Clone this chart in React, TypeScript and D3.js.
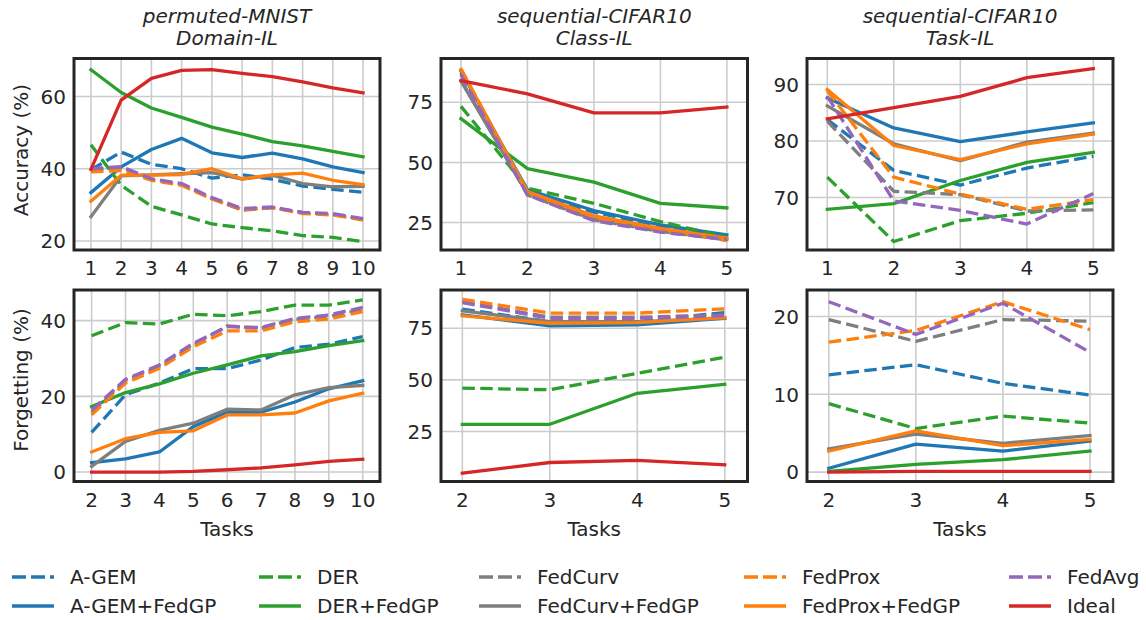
import React from 'react';
import * as d3 from 'd3';

// ---------- categories ----------
const methodNames = ['A-GEM', 'A-GEM+FedGP', 'DER', 'DER+FedGP', 'FedCurv', 'FedCurv+FedGP', 'FedProx', 'FedProx+FedGP', 'FedAvg', 'Ideal'];
const methodColors = ['#1f77b4', '#1f77b4', '#2ca02c', '#2ca02c', '#7f7f7f', '#7f7f7f', '#ff7f0e', '#ff7f0e', '#9467bd', '#d62728'];
const methodDashed = [true, false, true, false, true, false, true, false, true, false];

const tasksAll10 = [1, 2, 3, 4, 5, 6, 7, 8, 9, 10];
const tasksFrom2to10 = [2, 3, 4, 5, 6, 7, 8, 9, 10];
const tasksAll5 = [1, 2, 3, 4, 5];
const tasksFrom2to5 = [2, 3, 4, 5];

// ---------- permuted-MNIST Domain-IL accuracy ----------
const pmAccAGEM = [39.7, 44.6, 41.2, 40.0, 37.4, 38.3, 37.1, 35.2, 34.3, 33.5];
const pmAccAGEMGP = [33.4, 40.5, 45.3, 48.4, 44.4, 43.1, 44.3, 42.7, 40.5, 38.9];
const pmAccDER = [46.6, 35.4, 29.6, 27.2, 24.7, 23.7, 22.8, 21.5, 21.0, 19.8];
const pmAccDERGP = [67.4, 61.1, 56.8, 54.2, 51.5, 49.6, 47.5, 46.3, 44.8, 43.3];
const pmAccCurv = [39.5, 40.3, 37.1, 35.7, 31.7, 28.5, 29.2, 27.9, 27.3, 26.0];
const pmAccCurvGP = [26.7, 38.0, 38.3, 38.6, 38.9, 37.1, 38.2, 35.9, 35.0, 35.1];
const pmAccProx = [39.1, 39.5, 36.8, 35.4, 31.6, 28.7, 29.2, 27.6, 27.2, 25.8];
const pmAccProxGP = [31.0, 38.2, 38.2, 38.4, 40.0, 37.2, 38.3, 38.8, 36.8, 35.6];
const pmAccAvg = [40.0, 40.6, 37.2, 35.9, 32.0, 29.0, 29.4, 27.9, 27.6, 26.2];
const pmAccIdeal = [39.8, 59.0, 65.0, 67.2, 67.4, 66.4, 65.5, 64.0, 62.4, 61.0];

// ---------- sequential-CIFAR10 Class-IL accuracy ----------
const ciAccAGEM = [87.2, 38.2, 29.3, 23.6, 18.9];
const ciAccAGEMGP = [87.9, 38.6, 30.0, 24.0, 19.9];
const ciAccDER = [73.3, 39.3, 33.0, 25.4, 18.9];
const ciAccDERGP = [68.2, 47.4, 41.8, 33.0, 31.1];
const ciAccCurv = [84.4, 36.5, 26.1, 21.3, 17.8];
const ciAccCurvGP = [83.8, 37.0, 26.4, 21.7, 18.0];
const ciAccProx = [88.9, 37.5, 27.2, 22.2, 17.5];
const ciAccProxGP = [88.6, 37.9, 27.8, 22.6, 18.5];
const ciAccAvg = [86.5, 36.5, 25.8, 21.0, 18.0];
const ciAccIdeal = [84.0, 78.5, 70.6, 70.6, 73.0];

// ---------- sequential-CIFAR10 Task-IL accuracy ----------
const tiAccAGEM = [83.8, 74.8, 72.2, 75.2, 77.3];
const tiAccAGEMGP = [87.6, 82.3, 79.9, 81.6, 83.2];
const tiAccDER = [73.6, 62.2, 65.9, 67.2, 69.1];
const tiAccDERGP = [67.9, 68.9, 73.0, 76.2, 78.0];
const tiAccCurv = [83.5, 71.1, 70.5, 67.6, 67.8];
const tiAccCurvGP = [86.2, 79.5, 76.5, 79.8, 81.4];
const tiAccProx = [88.9, 73.6, 70.6, 67.9, 69.6];
const tiAccProxGP = [89.1, 79.2, 76.7, 79.5, 81.2];
const tiAccAvg = [87.9, 69.4, 67.7, 65.3, 70.7];
const tiAccIdeal = [83.9, 85.9, 87.9, 91.2, 92.8];

// ---------- permuted-MNIST forgetting ----------
const pmFgtAGEM = [10.5, 20.4, 23.5, 27.3, 27.3, 29.6, 32.9, 33.8, 35.8];
const pmFgtAGEMGP = [2.5, 3.5, 5.3, 12.0, 15.8, 15.8, 18.5, 22.0, 24.1];
const pmFgtDER = [36.0, 39.5, 39.1, 41.7, 41.3, 42.4, 44.1, 44.1, 45.5];
const pmFgtDERGP = [17.3, 21.0, 23.3, 26.1, 28.3, 30.7, 31.8, 33.4, 34.7];
const pmFgtCurv = [15.7, 24.1, 27.9, 33.6, 38.6, 38.0, 40.4, 41.1, 43.0];
const pmFgtCurvGP = [1.5, 8.1, 11.0, 12.9, 16.6, 16.4, 20.4, 22.3, 22.9];
const pmFgtProx = [15.1, 23.5, 27.4, 33.1, 37.3, 37.3, 39.7, 40.4, 42.4];
const pmFgtProxGP = [5.3, 8.8, 10.5, 10.9, 15.1, 15.1, 15.6, 18.8, 20.8];
const pmFgtAvg = [16.3, 24.5, 28.3, 34.0, 38.4, 38.2, 40.6, 41.5, 43.5];
const pmFgtIdeal = [0.0, 0.0, 0.0, 0.2, 0.6, 1.1, 1.9, 2.8, 3.4];

// ---------- sequential-CIFAR10 Class-IL forgetting ----------
const ciFgtAGEM = [84.2, 78.2, 78.2, 82.6];
const ciFgtAGEMGP = [81.5, 76.1, 76.6, 79.8];
const ciFgtDER = [46.0, 45.2, 53.2, 61.0];
const ciFgtDERGP = [28.5, 28.5, 43.5, 47.9];
const ciFgtCurv = [87.9, 80.3, 80.3, 81.5];
const ciFgtCurvGP = [83.4, 78.2, 78.2, 79.8];
const ciFgtProx = [89.0, 82.3, 82.3, 84.4];
const ciFgtProxGP = [81.0, 77.4, 77.7, 80.2];
const ciFgtAvg = [87.4, 79.8, 79.8, 81.1];
const ciFgtIdeal = [4.8, 10.0, 11.0, 8.9];

// ---------- sequential-CIFAR10 Task-IL forgetting ----------
const tiFgtAGEM = [12.5, 13.8, 11.4, 9.9];
const tiFgtAGEMGP = [0.5, 3.6, 2.7, 4.0];
const tiFgtDER = [8.8, 5.6, 7.2, 6.3];
const tiFgtDERGP = [0.1, 1.0, 1.6, 2.7];
const tiFgtCurv = [19.6, 16.8, 19.6, 19.4];
const tiFgtCurvGP = [3.0, 4.9, 3.7, 4.7];
const tiFgtProx = [16.7, 18.2, 21.9, 18.3];
const tiFgtProxGP = [2.7, 5.3, 3.4, 4.2];
const tiFgtAvg = [21.9, 17.7, 21.7, 15.4];
const tiFgtIdeal = [0.0, 0.1, 0.1, 0.1];

// ---------- tick labels ----------
const yTicksPmAcc = [20, 40, 60];
const yTicksCiAcc = [25, 50, 75];
const yTicksTiAcc = [70, 80, 90];
const yTicksPmFgt = [0, 20, 40];
const yTicksCiFgt = [25, 50, 75];
const yTicksTiFgt = [0, 10, 20];

const FONT = 'DejaVu Sans, sans-serif';
const TEXT = '#262626';

type Panel = {
  x0: number; x1: number; y0: number; y1: number;
  xDom: [number, number]; yDom: [number, number];
  xs: number[]; xTicks: number[]; yTicks: number[];
  series: number[][];
  title?: [string, string];
  ylabel?: string; ylabelY?: number;
  xlabel?: string;
};

const panels: Panel[] = [
  {
    x0: 74, x1: 380, y0: 58.5, y1: 250, xDom: [0.44, 10.56], yDom: [17.5, 70.5],
    xs: tasksAll10, xTicks: tasksAll10, yTicks: yTicksPmAcc,
    series: [pmAccAGEM, pmAccAGEMGP, pmAccDER, pmAccDERGP, pmAccCurv, pmAccCurvGP, pmAccProx, pmAccProxGP, pmAccAvg, pmAccIdeal],
    title: ['permuted-MNIST', 'Domain-IL'], ylabel: 'Accuracy (%)', ylabelY: 150,
  },
  {
    x0: 441, x1: 747.5, y0: 58.5, y1: 250, xDom: [0.7, 5.31], yDom: [13.6, 93.2],
    xs: tasksAll5, xTicks: tasksAll5, yTicks: yTicksCiAcc,
    series: [ciAccAGEM, ciAccAGEMGP, ciAccDER, ciAccDERGP, ciAccCurv, ciAccCurvGP, ciAccProx, ciAccProxGP, ciAccAvg, ciAccIdeal],
    title: ['sequential-CIFAR10', 'Class-IL'],
  },
  {
    x0: 807, x1: 1113, y0: 58.5, y1: 250, xDom: [0.695, 5.296], yDom: [60.7, 94.6],
    xs: tasksAll5, xTicks: tasksAll5, yTicks: yTicksTiAcc,
    series: [tiAccAGEM, tiAccAGEMGP, tiAccDER, tiAccDERGP, tiAccCurv, tiAccCurvGP, tiAccProx, tiAccProxGP, tiAccAvg, tiAccIdeal],
    title: ['sequential-CIFAR10', 'Task-IL'],
  },
  {
    x0: 74, x1: 380, y0: 290, y1: 481.5, xDom: [1.48, 10.51], yDom: [-2.5, 48.1],
    xs: tasksFrom2to10, xTicks: tasksFrom2to10, yTicks: yTicksPmFgt,
    series: [pmFgtAGEM, pmFgtAGEMGP, pmFgtDER, pmFgtDERGP, pmFgtCurv, pmFgtCurvGP, pmFgtProx, pmFgtProxGP, pmFgtAvg, pmFgtIdeal],
    ylabel: 'Forgetting (%)', ylabelY: 380, xlabel: 'Tasks',
  },
  {
    x0: 441, x1: 747.5, y0: 290, y1: 481.5, xDom: [1.756, 5.26], yDom: [0.8, 93.5],
    xs: tasksFrom2to5, xTicks: tasksFrom2to5, yTicks: yTicksCiFgt,
    series: [ciFgtAGEM, ciFgtAGEMGP, ciFgtDER, ciFgtDERGP, ciFgtCurv, ciFgtCurvGP, ciFgtProx, ciFgtProxGP, ciFgtAvg, ciFgtIdeal],
    xlabel: 'Tasks',
  },
  {
    x0: 807, x1: 1113, y0: 290, y1: 481.5, xDom: [1.75, 5.264], yDom: [-1.2, 23.4],
    xs: tasksFrom2to5, xTicks: tasksFrom2to5, yTicks: yTicksTiFgt,
    series: [tiFgtAGEM, tiFgtAGEMGP, tiFgtDER, tiFgtDERGP, tiFgtCurv, tiFgtCurvGP, tiFgtProx, tiFgtProxGP, tiFgtAvg, tiFgtIdeal],
    xlabel: 'Tasks',
  },
];

const LW = 3.3;
const DASH = '12.5,5.4';

function PanelView({ p, idx }: { p: Panel; idx: number }) {
  const x = d3.scaleLinear().domain(p.xDom).range([p.x0, p.x1]);
  const y = d3.scaleLinear().domain(p.yDom).range([p.y1, p.y0]);
  const line = d3.line<[number, number]>().x(d => x(d[0])).y(d => y(d[1]));
  const cx = (p.x0 + p.x1) / 2;
  const clipId = `clip${idx}`;
  return (
    <g>
      <defs>
        <clipPath id={clipId}>
          <rect x={p.x0} y={p.y0} width={p.x1 - p.x0} height={p.y1 - p.y0} />
        </clipPath>
      </defs>
      <rect x={p.x0} y={p.y0} width={p.x1 - p.x0} height={p.y1 - p.y0} fill="#ffffff" />
      {p.xTicks.map(t => (
        <line key={'gx' + t} x1={x(t)} x2={x(t)} y1={p.y0} y2={p.y1} stroke="#cccccc" strokeWidth={1.6} />
      ))}
      {p.yTicks.map(t => (
        <line key={'gy' + t} x1={p.x0} x2={p.x1} y1={y(t)} y2={y(t)} stroke="#cccccc" strokeWidth={1.6} />
      ))}
      <g clipPath={`url(#${clipId})`}>
        {p.series.map((vals, i) => (
          <path
            key={'s' + i}
            d={line(p.xs.map((xv, j) => [xv, vals[j]] as [number, number])) || ''}
            fill="none"
            stroke={methodColors[i]}
            strokeWidth={LW}
            strokeDasharray={methodDashed[i] ? DASH : undefined}
            strokeLinecap={methodDashed[i] ? 'butt' : 'square'}
            strokeLinejoin="round"
          />
        ))}
      </g>
      <rect x={p.x0} y={p.y0} width={p.x1 - p.x0} height={p.y1 - p.y0} fill="none" stroke={TEXT} strokeWidth={3} />
      {p.xTicks.map(t => (
        <text key={'tx' + t} x={x(t)} y={p.y1 + 25} textAnchor="middle" fontSize={20} fill={TEXT} fontFamily={FONT}>{t}</text>
      ))}
      {p.yTicks.map(t => (
        <text key={'ty' + t} x={p.x0 - 8} y={y(t)} dy="0.36em" textAnchor="end" fontSize={20} fill={TEXT} fontFamily={FONT}>{t}</text>
      ))}
      {p.title && (
        <g fontSize={20} fill={TEXT} fontFamily={FONT} fontStyle="italic" textAnchor="middle">
          <text x={cx} y={22.5}>{p.title[0]}</text>
          <text x={cx} y={45}>{p.title[1]}</text>
        </g>
      )}
      {p.ylabel && (
        <text transform={`translate(28,${p.ylabelY}) rotate(-90)`} textAnchor="middle" fontSize={20} fill={TEXT} fontFamily={FONT}>{p.ylabel}</text>
      )}
      {p.xlabel && (
        <text x={cx} y={536} textAnchor="middle" fontSize={20} fill={TEXT} fontFamily={FONT}>{p.xlabel}</text>
      )}
    </g>
  );
}

const legendColX = [12, 259, 479, 744, 1009];
const legendRowY = [577, 606];

export default function App() {
  return (
    <svg width={1146} height={620} style={{ position: 'absolute', left: 0, top: 0, background: '#fff' }}>
      <rect x={0} y={0} width={1146} height={620} fill="#fff" />
      {panels.map((p, i) => <PanelView key={i} p={p} idx={i} />)}
      {methodNames.map((name, i) => {
        const col = Math.floor(i / 2);
        const row = i % 2;
        const lx = legendColX[col];
        const ly = legendRowY[row];
        return (
          <g key={name}>
            <line x1={lx} x2={lx + 42} y1={ly} y2={ly} stroke={methodColors[i]} strokeWidth={LW}
              strokeDasharray={methodDashed[i] ? '14,5' : undefined} />
            <text x={lx + 58} y={ly} dy="0.36em" fontSize={20} fill={TEXT} fontFamily={FONT}>{name}</text>
          </g>
        );
      })}
    </svg>
  );
}
